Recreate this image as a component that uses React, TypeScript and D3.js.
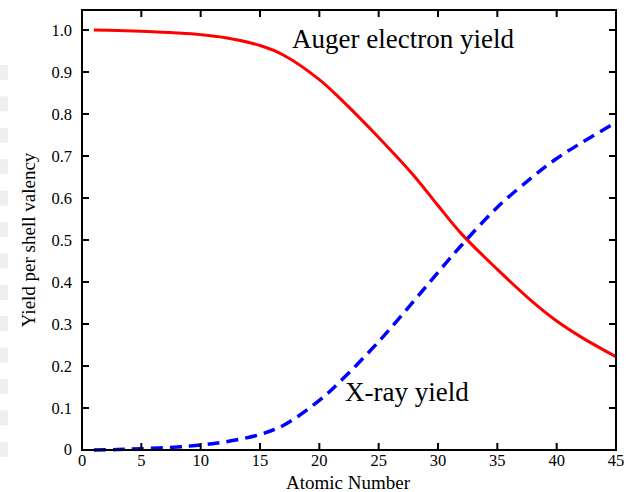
import * as d3 from "d3";

const atomicNumber = [1, 3, 5, 8, 10, 12, 15, 17, 20, 22, 25, 28, 30, 32, 35, 38, 40, 42, 45];
const augerYield = [1.0, 0.999, 0.997, 0.993, 0.989, 0.982, 0.963, 0.94, 0.882, 0.83, 0.744, 0.652, 0.582, 0.514, 0.43, 0.352, 0.307, 0.27, 0.222];
const xrayYield = [0, 0.001, 0.003, 0.007, 0.012, 0.019, 0.037, 0.059, 0.118, 0.17, 0.258, 0.356, 0.423, 0.488, 0.578, 0.651, 0.694, 0.73, 0.78];

const xTicks = [0, 5, 10, 15, 20, 25, 30, 35, 40, 45];
const yTicks = [0, 0.1, 0.2, 0.3, 0.4, 0.5, 0.6, 0.7, 0.8, 0.9, 1.0];

const W = 633, H = 492;
const L = 82, R = 616, T = 10, B = 450;
const FONT = "'Liberation Serif', 'Times New Roman', serif";

export default function App() {
  const x = d3.scaleLinear().domain([0, 45]).range([L, R]);
  const y = d3.scaleLinear().domain([0, 1]).range([B, B - 420]);

  const line = d3
    .line<number>()
    .x((_, i) => x(atomicNumber[i]))
    .y((d) => y(d))
    .curve(d3.curveCatmullRom.alpha(0.5));

  // faint grey strip on the left edge of the original image
  const strips = d3.range(13).map((i) => 65 + i * 31.4);

  return (
    <svg width={W} height={H} style={{ position: "absolute", left: 0, top: 0, background: "#fff" }}>
      {strips.map((sy) => (
        <rect key={sy} x={0} y={sy} width={8} height={15} fill="#efefef" />
      ))}

      {/* curves */}
      <path d={line(augerYield) ?? ""} fill="none" stroke="#ff0000" strokeWidth={3} />
      <path d={line(xrayYield) ?? ""} fill="none" stroke="#0000ff" strokeWidth={3.5} strokeDasharray="12,7" />

      {/* frame */}
      <rect x={L} y={T} width={R - L} height={B - T} fill="none" stroke="#000" strokeWidth={2} />

      {/* x ticks */}
      {xTicks.map((t) => (
        <g key={"x" + t}>
          <line x1={x(t)} x2={x(t)} y1={B} y2={B - 7} stroke="#000" strokeWidth={2} />
          <line x1={x(t)} x2={x(t)} y1={T} y2={T + 7} stroke="#000" strokeWidth={2} />
          <text x={x(t)} y={466} textAnchor="middle" fontFamily={FONT} fontSize={16.5} fill="#000">
            {t}
          </text>
        </g>
      ))}

      {/* y ticks */}
      {yTicks.map((t) => (
        <g key={"y" + t}>
          <line x1={L} x2={L + 7} y1={y(t)} y2={y(t)} stroke="#000" strokeWidth={2} />
          <line x1={R} x2={R - 7} y1={y(t)} y2={y(t)} stroke="#000" strokeWidth={2} />
          <text
            x={72}
            y={t === 0 ? y(t) + 5 : y(t) + 5.5}
            textAnchor="end"
            fontFamily={FONT}
            fontSize={16.5}
            fill="#000"
          >
            {t === 0 ? "0" : t.toFixed(1)}
          </text>
        </g>
      ))}

      {/* axis titles */}
      <text x={348} y={489} textAnchor="middle" fontFamily={FONT} fontSize={19} fill="#000">
        Atomic Number
      </text>
      <text
        transform="translate(35,240) rotate(-90)"
        textAnchor="middle"
        fontFamily={FONT}
        fontSize={19}
        fill="#000"
      >
        Yield per shell valency
      </text>

      {/* curve labels */}
      <text x={292} y={48} fontFamily={FONT} fontSize={27} fill="#000">
        Auger electron yield
      </text>
      <text x={345} y={401} fontFamily={FONT} fontSize={27} fill="#000">
        X-ray yield
      </text>
    </svg>
  );
}
